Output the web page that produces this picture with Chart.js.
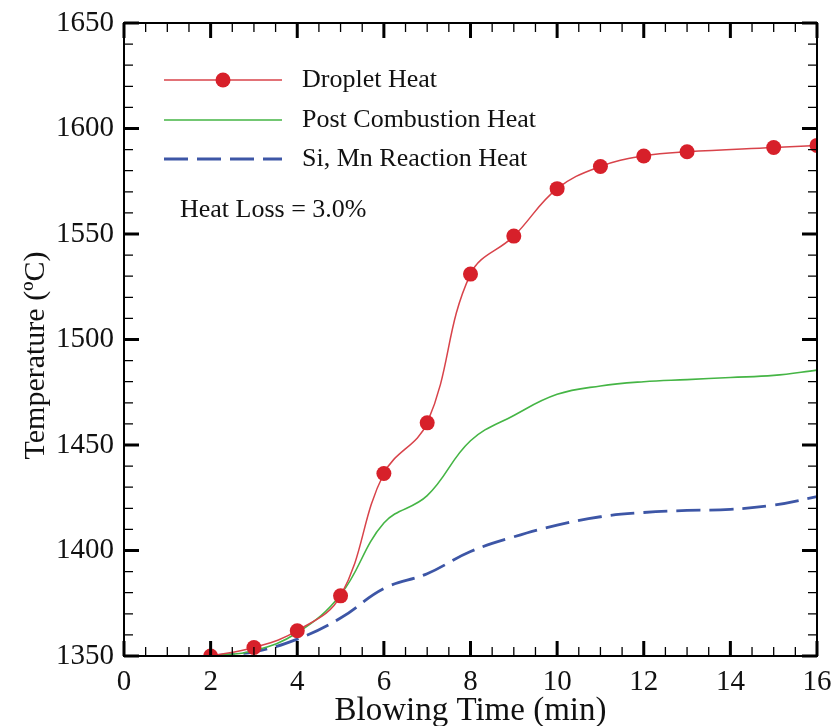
<!DOCTYPE html>
<html>
<head>
<meta charset="utf-8">
<script src="https://cdn.jsdelivr.net/npm/chart.js@4.4.0/dist/chart.umd.min.js"></script>
<style>
  html, body { margin: 0; padding: 0; background: #fff; }
  #wrap { width: 834px; height: 726px; }
</style>
</head>
<body>
<div id="wrap"><canvas id="chart" width="834" height="726"></canvas></div>
<script>
// data
const seriesNames = ['Droplet Heat', 'Post Combustion Heat', 'Si, Mn Reaction Heat'];
const dropletTimes = [2, 3, 4, 5, 6, 7, 8, 9, 10, 11, 12, 13, 15, 16];
const dropletHeat = [1350, 1354, 1362, 1378.5, 1436.5, 1460.5, 1531, 1549, 1571.5, 1582, 1587, 1589, 1591, 1592];
const curveTimes = [2, 3, 4, 5, 6, 7, 8, 9, 10, 11, 12, 13, 14, 15, 16];
const postCombustion = [1350, 1352.5, 1361, 1379, 1413, 1426, 1452, 1464, 1474, 1478, 1480, 1481, 1482, 1483, 1485.5];
const siMnReaction = [1350, 1352, 1358, 1368, 1382, 1389, 1399.5, 1406.5, 1412, 1416, 1418, 1419, 1419.5, 1421.5, 1425.5];
const xTicks = [0, 2, 4, 6, 8, 10, 12, 14, 16];
const yTicks = [1350, 1400, 1450, 1500, 1550, 1600, 1650];
const noteText = 'Heat Loss = 3.0%';
const yTitle = 'Temperature (ºC)';

const SERIF = '"Liberation Serif", "DejaVu Serif", serif';

function pts(xs, ys) {
  return xs.map((x, i) => ({ x: x, y: ys[i] }));
}

function noPad(s) {
  s.paddingLeft = 0;
  s.paddingRight = 0;
  s.paddingTop = 0;
  s.paddingBottom = 0;
}

// inward ticks on all four sides + frame
const framePlugin = {
  id: 'frame',
  afterDatasetsDraw(chart) {
    const { ctx, chartArea: a, scales } = chart;
    const xs = scales.x, ys = scales.y;
    ctx.save();
    ctx.strokeStyle = '#000';
    ctx.lineCap = 'butt';

    function tickX(v, len, w) {
      const px = xs.getPixelForValue(v);
      ctx.lineWidth = w;
      ctx.beginPath();
      ctx.moveTo(px, a.bottom); ctx.lineTo(px, a.bottom - len);
      ctx.moveTo(px, a.top); ctx.lineTo(px, a.top + len);
      ctx.stroke();
    }
    function tickY(v, len, w) {
      const py = ys.getPixelForValue(v);
      ctx.lineWidth = w;
      ctx.beginPath();
      ctx.moveTo(a.left, py); ctx.lineTo(a.left + len, py);
      ctx.moveTo(a.right, py); ctx.lineTo(a.right - len, py);
      ctx.stroke();
    }
    for (let v = xs.min; v <= xs.max; v += 0.5) {
      if (v % 2 !== 0) tickX(v, 9, 1.3);
    }
    for (let v = ys.min; v <= ys.max; v += 10) {
      if (v % 50 !== 0) tickY(v, 9, 1.3);
    }
    xTicks.forEach(v => tickX(v, 15, 3));
    yTicks.forEach(v => tickY(v, 15, 3));

    ctx.lineWidth = 2;
    ctx.strokeRect(a.left, a.top, a.right - a.left, a.bottom - a.top);
    ctx.restore();
  }
};

// legend drawn inside the plot like the original, plus the y title
const legendPlugin = {
  id: 'insideLegend',
  afterDraw(chart) {
    const { ctx, chartArea: a } = chart;
    const x0 = a.left + 40, x1 = a.left + 158, tx = a.left + 178;
    const rowY = [a.top + 57, a.top + 97, a.top + 136];
    ctx.save();
    chart.data.datasets.forEach((ds, i) => {
      const y = rowY[i];
      ctx.strokeStyle = ds.borderColor;
      ctx.lineWidth = ds.borderWidth;
      ctx.setLineDash(ds.borderDash || []);
      ctx.beginPath();
      ctx.moveTo(x0, y); ctx.lineTo(x1, y);
      ctx.stroke();
      ctx.setLineDash([]);
      if (ds.pointRadius > 0) {
        ctx.fillStyle = ds.pointBackgroundColor;
        ctx.beginPath();
        ctx.arc((x0 + x1) / 2, y, ds.pointRadius, 0, Math.PI * 2);
        ctx.fill();
      }
      ctx.fillStyle = '#111';
      ctx.font = '26px ' + SERIF;
      ctx.textBaseline = 'middle';
      ctx.textAlign = 'left';
      ctx.fillText(ds.label, tx, y);
    });
    ctx.font = '26px ' + SERIF;
    ctx.fillText(noteText, a.left + 56, a.top + 187);

    // y axis title, sits a bit below the middle in the original
    ctx.translate(36, (a.top + a.bottom) / 2 + 16);
    ctx.rotate(-Math.PI / 2);
    ctx.textAlign = 'center';
    ctx.font = '30px ' + SERIF;
    ctx.fillText(yTitle, 0, 0);
    ctx.restore();
  }
};

new Chart(document.getElementById('chart').getContext('2d'), {
  type: 'line',
  data: {
    datasets: [
      {
        label: seriesNames[0],
        data: pts(dropletTimes, dropletHeat),
        borderColor: '#d8434a',
        borderWidth: 1.5,
        pointRadius: 7.5,
        pointBackgroundColor: '#d7202a',
        pointBorderWidth: 0,
        tension: 0.4
      },
      {
        label: seriesNames[1],
        data: pts(curveTimes, postCombustion),
        borderColor: '#45b545',
        borderWidth: 1.6,
        pointRadius: 0,
        tension: 0.4
      },
      {
        label: seriesNames[2],
        data: pts(curveTimes, siMnReaction),
        borderColor: '#3d56a6',
        borderWidth: 2.8,
        borderDash: [24, 9],
        pointRadius: 0,
        tension: 0.4
      }
    ]
  },
  options: {
    responsive: false,
    animation: false,
    layout: { padding: { top: 23, right: 17, left: 0, bottom: 0 } },
    plugins: {
      legend: { display: false },
      tooltip: { enabled: false }
    },
    scales: {
      x: {
        type: 'linear',
        min: 0,
        max: 16,
        afterBuildTicks: s => { s.ticks = xTicks.map(v => ({ value: v })); },
        afterFit: s => { s.height = 70; noPad(s); },
        grid: { display: false, drawTicks: false },
        border: { display: false },
        ticks: {
          color: '#111', padding: 9, maxRotation: 0,
          font: { family: SERIF, size: 29 },
          callback: v => String(v)
        },
        title: {
          display: true,
          text: 'Blowing Time (min)',
          color: '#111',
          font: { family: SERIF, size: 33, lineHeight: 0.9 },
          padding: { top: 0, bottom: 0 }
        }
      },
      y: {
        type: 'linear',
        min: 1350,
        max: 1650,
        afterBuildTicks: s => { s.ticks = yTicks.map(v => ({ value: v })); },
        afterFit: s => { s.width = 124; noPad(s); },
        grid: { display: false, drawTicks: false },
        border: { display: false },
        ticks: {
          color: '#111', padding: 10,
          font: { family: SERIF, size: 29 },
          callback: v => String(v)
        }
      }
    }
  },
  plugins: [framePlugin, legendPlugin]
});
</script>
</body>
</html>
